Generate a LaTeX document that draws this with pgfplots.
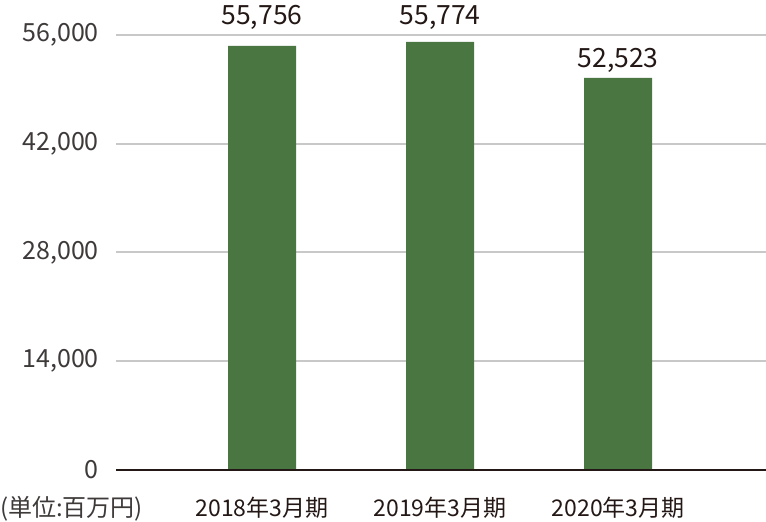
\documentclass[border=0pt]{standalone}
\usepackage{fontspec}
\setmainfont{Noto Sans CJK JP}
\usepackage{pgfplots}
\pgfplotsset{compat=1.18}
\usepackage{pgfplotstable}
\definecolor{bargreen}{HTML}{4A7741}
\definecolor{gridgray}{HTML}{C8C8C8}
\definecolor{inkdark}{HTML}{231815}
\definecolor{ticktext}{HTML}{3E3A39}

\pgfplotstableread{
x y label off
0 54584 55,756 21
1 55100 55,774 17
2 50465 52,523 10
}\datatable

\begin{document}
\begin{tikzpicture}
\path[use as bounding box] (0,0) rectangle (766pt,522pt);
\begin{axis}[
  at={(116pt,52pt)}, anchor=south west,
  scale only axis, width=650pt, height=435pt,
  xmin=-0.82, xmax=2.83, ymin=0, ymax=56000,
  clip=false,
  xtick={0,1,2},
  xticklabels={2018年3月期,2019年3月期,2020年3月期},
  ytick={0,14000,28000,42000,56000},
  scaled y ticks=false,
  /pgf/number format/1000 sep={,},
  /pgf/number format/assume math mode=true,
  major tick length=0pt,
  axis line style={draw=none},
  ymajorgrids,
  grid style={gridgray, line width=2pt},
  yticklabel style={font=\fontsize{25pt}{25pt}\selectfont, text=ticktext, anchor=east, inner sep=0pt, xshift=-17pt},
  xticklabel style={font=\fontsize{23pt}{23pt}\selectfont, text=inkdark, anchor=base, inner sep=0pt, yshift=-47pt},
  ybar, bar width=68pt,
  point meta=explicit symbolic,
  nodes near coords,
  visualization depends on={\thisrow{off} \as \off},
  nodes near coords style={font=\fontsize{26.5pt}{26.5pt}\selectfont, text=inkdark, anchor=base, inner sep=0pt, yshift=\off pt},
]
\addplot[fill=bargreen, draw=none] table[x=x, y=y, meta=label] {\datatable};
\draw[inkdark, line width=2.4pt] (axis cs:-0.82,0) -- (axis cs:2.83,0);
\end{axis}
\node[anchor=base west, inner sep=0pt, font=\fontsize{24pt}{24pt}\selectfont, text=ticktext] at (0pt,5pt) {(単位:百万円)};
\end{tikzpicture}
\end{document}
